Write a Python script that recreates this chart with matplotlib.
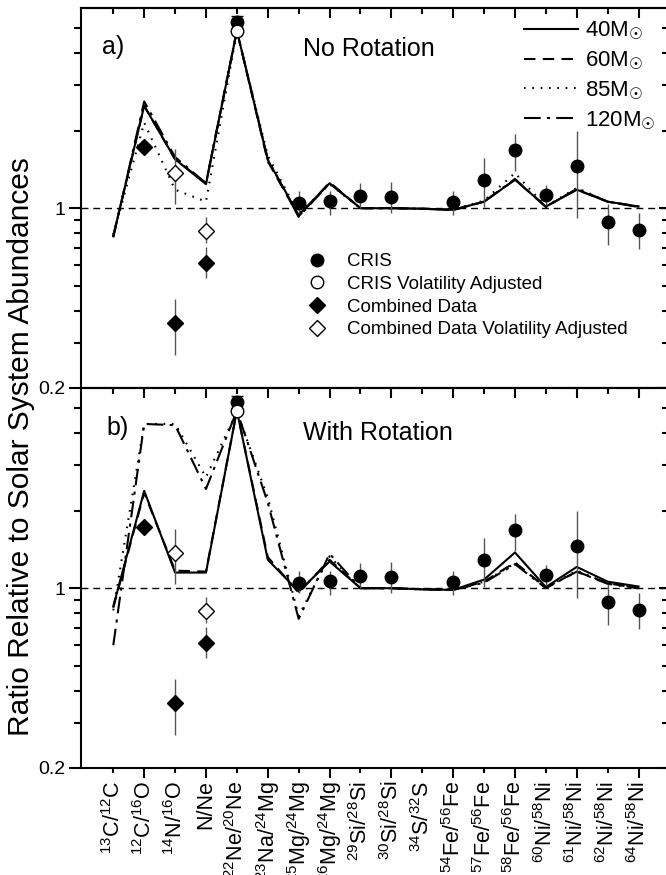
import numpy as np
import matplotlib
matplotlib.use('Agg')
from matplotlib import pyplot as plt
from matplotlib.lines import Line2D
from matplotlib.ticker import NullFormatter

plt.rcParams['font.family'] = ['Liberation Sans', 'DejaVu Sans']

ratios = [r'$\mathregular{^{13}C/^{12}C}$', r'$\mathregular{^{12}C/^{16}O}$',
          r'$\mathregular{^{14}N/^{16}O}$', 'N/Ne',
          r'$\mathregular{^{22}Ne/^{20}Ne}$', r'$\mathregular{^{23}Na/^{24}Mg}$',
          r'$\mathregular{^{25}Mg/^{24}Mg}$', r'$\mathregular{^{26}Mg/^{24}Mg}$',
          r'$\mathregular{^{29}Si/^{28}Si}$', r'$\mathregular{^{30}Si/^{28}Si}$',
          r'$\mathregular{^{34}S/^{32}S}$', r'$\mathregular{^{54}Fe/^{56}Fe}$',
          r'$\mathregular{^{57}Fe/^{56}Fe}$', r'$\mathregular{^{58}Fe/^{56}Fe}$',
          r'$\mathregular{^{60}Ni/^{58}Ni}$', r'$\mathregular{^{61}Ni/^{58}Ni}$',
          r'$\mathregular{^{62}Ni/^{58}Ni}$', r'$\mathregular{^{64}Ni/^{58}Ni}$']

# CRIS measurements (index into ratios, value, lower/upper end of error bar)
cris_idx = [4, 6, 7, 8, 9, 11, 12, 13, 14, 15, 16, 17]
cris_val = [5.29, 1.05, 1.065, 1.12, 1.106, 1.058, 1.29, 1.68, 1.13, 1.456, 0.885, 0.826]
cris_lo = [5.0, 0.957, 0.939, 1.0, 0.954, 0.939, 1.01, 1.40, 1.03, 0.912, 0.718, 0.697]
cris_hi = [5.58, 1.17, 1.167, 1.25, 1.265, 1.167, 1.57, 1.95, 1.23, 1.99, 1.04, 0.954]

cris_vol_idx = [4]
cris_vol_val = [4.88]

comb_idx = [1, 2, 3]
comb_val = [1.73, 0.357, 0.61]
comb_lo = [1.73, 0.268, 0.533]
comb_hi = [1.73, 0.442, 0.707]

comb_vol_idx = [2, 3]
comb_vol_val = [1.37, 0.814]
comb_vol_lo = [1.036, 0.73]
comb_vol_hi = [1.705, 0.925]

# wind models, no rotation
m40_norot = [0.78, 2.5, 1.55, 1.24, 4.9, 1.54, 0.94, 1.25, 1.0, 1.0, 0.995, 0.985, 1.06, 1.29, 1.015, 1.18, 1.06, 1.015]
m60_norot = [0.78, 2.5, 1.55, 1.25, 4.9, 1.52, 0.93, 1.26, 1.0, 1.0, 0.995, 0.985, 1.06, 1.29, 1.015, 1.18, 1.06, 1.015]
m85_norot = [0.79, 2.15, 1.18, 1.06, 4.85, 1.6, 0.95, 1.24, 1.0, 1.0, 0.995, 0.985, 1.07, 1.37, 1.015, 1.2, 1.06, 1.015]
m120_norot = [0.77, 2.6, 1.58, 1.25, 4.9, 1.55, 0.925, 1.25, 1.0, 1.0, 0.995, 0.985, 1.06, 1.3, 1.01, 1.19, 1.06, 1.01]

# wind models, with rotation
m40_rot = [0.85, 2.39, 1.15, 1.15, 4.9, 1.29, 0.97, 1.27, 1.0, 1.0, 0.99, 0.985, 1.08, 1.376, 1.01, 1.21, 1.06, 1.015]
m60_rot = [0.84, 2.35, 1.17, 1.16, 4.9, 1.32, 0.96, 1.29, 1.0, 1.0, 0.99, 0.985, 1.06, 1.26, 1.005, 1.16, 1.045, 1.0]
m85_rot = [0.82, 4.35, 4.35, 2.7, 4.85, 2.25, 0.78, 1.33, 1.0, 1.0, 0.99, 0.985, 1.06, 1.25, 1.005, 1.17, 1.045, 1.0]
m120_rot = [0.6, 4.35, 4.3, 2.43, 4.9, 2.15, 0.76, 1.36, 1.0, 1.0, 0.99, 0.985, 1.05, 1.24, 1.0, 1.16, 1.04, 1.0]

masses = ['40', '60', '85', '120']
styles = ['-', (0, (5.5, 3.5)), (0, (0.8, 3.2)), (0, (8, 3, 1.5, 3))]

x = np.arange(len(ratios))
W, H = 666, 875


def err(val, lo, hi):
    val = np.array(val)
    return [val - np.array(lo), np.array(hi) - val]


def draw_panel(ax, models):
    ax.set_yscale('log')
    for m, ls, vals in zip(masses, styles, models):
        ax.plot(x, vals, color='k', lw=1.5, ls=ls, label=m + 'M$_{\u2609}$', zorder=3)
    ax.axhline(1, color='k', lw=1.0, ls=(0, (5, 3.5)), zorder=2)

    ci = np.array(cris_idx)
    ax.errorbar(ci, cris_val, yerr=err(cris_val, cris_lo, cris_hi), fmt='none',
                ecolor='#555555', elinewidth=1, zorder=4)
    ax.errorbar(ci[:1], cris_val[:1], yerr=err(cris_val[:1], cris_lo[:1], cris_hi[:1]),
                fmt='none', ecolor='k', elinewidth=1, capsize=4, zorder=4)
    ax.plot(ci, cris_val, 'o', color='k', ms=9, zorder=5)
    ax.plot(cris_vol_idx, cris_vol_val, 'o', mfc='white', mec='k', mew=1, ms=9, zorder=5)
    ax.errorbar(comb_idx, comb_val, yerr=err(comb_val, comb_lo, comb_hi), fmt='none',
                ecolor='#555555', elinewidth=1, zorder=4)
    ax.plot(comb_idx, comb_val, 'D', color='k', ms=8.5, zorder=5)
    ax.errorbar(comb_vol_idx, comb_vol_val, yerr=err(comb_vol_val, comb_vol_lo, comb_vol_hi),
                fmt='none', ecolor='#555555', elinewidth=1, zorder=4)
    ax.plot(comb_vol_idx, comb_vol_val, 'D', mfc='white', mec='k', mew=1, ms=8.5, zorder=5)

    ax.set_xlim(-1.045, 17.92)
    ax.set_ylim(0.2, 6)
    ax.set_yticks([0.2, 1], ['0.2', '1'])
    minor_y = [0.3, 0.4, 0.5, 0.6, 0.7, 0.8, 0.9, 2, 3, 4, 5]
    ax.set_yticks(minor_y, minor=True)
    ax.yaxis.set_minor_formatter(NullFormatter())
    ax.tick_params(axis='y', which='major', direction='out', length=8.5, width=1.5,
                   labelsize=14, pad=3)
    ax.tick_params(axis='y', which='minor', direction='out', length=5, width=1.5)
    for s in ax.spines.values():
        s.set_linewidth(1.5)

    top = ax.secondary_xaxis('top')
    top.set_xticks(x[1::2])
    top.set_xticks(x[0::2], minor=True)
    top.tick_params(which='major', direction='in', length=7, width=1.5, labeltop=False)
    top.tick_params(which='minor', direction='in', length=4.3, width=1.5, labeltop=False)
    top.spines['top'].set_linewidth(1.5)

    right = ax.secondary_yaxis('right')
    right.set_yticks([0.2, 1])
    right.set_yticks(minor_y, minor=True)
    right.yaxis.set_minor_formatter(NullFormatter())
    right.tick_params(which='major', direction='in', length=6, width=1.5, labelright=False)
    right.tick_params(which='minor', direction='in', length=3.6, width=1.5, labelright=False)
    return ax


fig = plt.figure(figsize=(W / 100, H / 100), dpi=100)
ax_a = fig.add_axes([81 / W, 487 / H, 586 / W, 380 / H])
ax_b = fig.add_axes([81 / W, 107 / H, 586 / W, 380 / H])

draw_panel(ax_a, [m40_norot, m60_norot, m85_norot, m120_norot])
draw_panel(ax_b, [m40_rot, m60_rot, m85_rot, m120_rot])

ax_a.tick_params(axis='x', which='both', bottom=False, labelbottom=False)
ax_b.set_xticks(x[1::2], [ratios[i] for i in x[1::2]], rotation=90)
ax_b.set_xticks(x[0::2], [ratios[i] for i in x[0::2]], minor=True, rotation=90)
ax_b.tick_params(axis='x', which='major', direction='out', length=7, width=1.5,
                 labelsize=15.5, pad=2)
ax_b.tick_params(axis='x', which='minor', direction='out', length=3.6, width=1.5,
                 labelsize=15.5, pad=5.6)

ax_a.text(0.036, 0.897, 'a)', transform=ax_a.transAxes, fontsize=18, va='center')
ax_a.text(0.379, 0.892, 'No Rotation', transform=ax_a.transAxes, fontsize=18, va='center')
ax_b.text(0.044, 0.895, 'b)', transform=ax_b.transAxes, fontsize=18, va='center')
ax_b.text(0.378, 0.882, 'With Rotation', transform=ax_b.transAxes, fontsize=18, va='center')

data_handles = [
    Line2D([], [], ls='none', marker='o', color='k', ms=9),
    Line2D([], [], ls='none', marker='o', mfc='white', mec='k', mew=1, ms=9),
    Line2D([], [], ls='none', marker='D', color='k', ms=8.5),
    Line2D([], [], ls='none', marker='D', mfc='white', mec='k', mew=1, ms=8.5),
]
data_labels = ['CRIS', 'CRIS Volatility Adjusted', 'Combined Data',
               'Combined Data Volatility Adjusted']
leg = ax_a.legend(data_handles, data_labels, loc='upper left', bbox_to_anchor=(0.386, 0.355),
                  frameon=False, fontsize=13.5, handlelength=1.0, handletextpad=1.1,
                  labelspacing=0.3, borderpad=0, borderaxespad=0)
ax_a.add_artist(leg)
ax_a.legend(loc='upper left', bbox_to_anchor=(0.756, 0.97), frameon=False, fontsize=16,
            handlelength=2.43, handletextpad=0.3, labelspacing=0.33, borderpad=0,
            borderaxespad=0)

fig.text(21 / W, 1 - 447 / H, 'Ratio Relative to Solar System Abundances', rotation=90,
         fontsize=21.5, ha='center', va='center')

fig.savefig('out.png', dpi=100)
